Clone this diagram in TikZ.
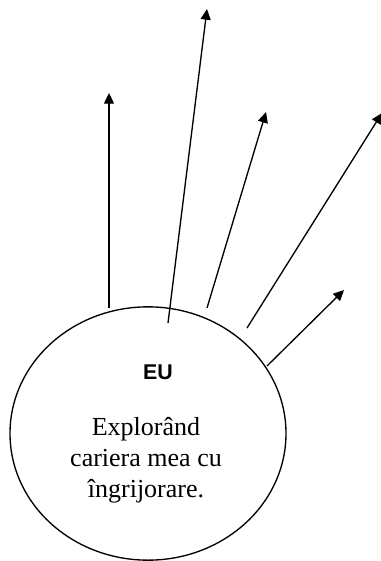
\documentclass[tikz,border=0pt]{standalone}
\usepackage{fontspec}
\setmainfont{Liberation Serif}
\newfontfamily\headfont{Liberation Sans}
\usetikzlibrary{shapes.geometric,arrows.meta}

\tikzset{
  ray/.style={line width=1pt,-{Triangle[length=8pt,width=7.5pt]}},
  lbl/.style={anchor=base,inner sep=0pt,font=\fontsize{19.5}{24}\selectfont}
}

\begin{document}
\begin{tikzpicture}[x=0.75pt,y=-0.75pt]
      \useasboundingbox (0,0) rectangle (380,561);

      \node [draw,ellipse,line width=1pt,inner sep=0pt,
             minimum width=207pt,minimum height=190pt] (eu) at (148,433.5) {};

      \node [anchor=base,inner sep=0pt,font=\headfont\bfseries\fontsize{16}{18}\selectfont] (title) at (158,379) {EU};
      \node [lbl] (line1) at (146,435) {Explorând};
      \node [lbl] (line2) at (146,466) {cariera mea cu};
      \node [lbl] (line3) at (146,497) {îngrijorare.};

      % starts on the circle
      \coordinate (s1) at (109,308);
      \coordinate (s2) at (168,323);
      \coordinate (s3) at (207,308);
      \coordinate (s4) at (247,328);
      \coordinate (s5) at (267,366);

      % arrow tips
      \coordinate (t1) at (109,93);
      \coordinate (t2) at (207,9);
      \coordinate (t3) at (266,112);
      \coordinate (t4) at (382,113);
      \coordinate (t5) at (344,290);

      \draw [ray] (s1) -- (t1);
      \draw [ray] (s2) -- (t2);
      \draw [ray] (s3) -- (t3);
      \draw [ray] (s4) -- (t4);
      \draw [ray] (s5) -- (t5);
    \end{tikzpicture}
\end{document}
